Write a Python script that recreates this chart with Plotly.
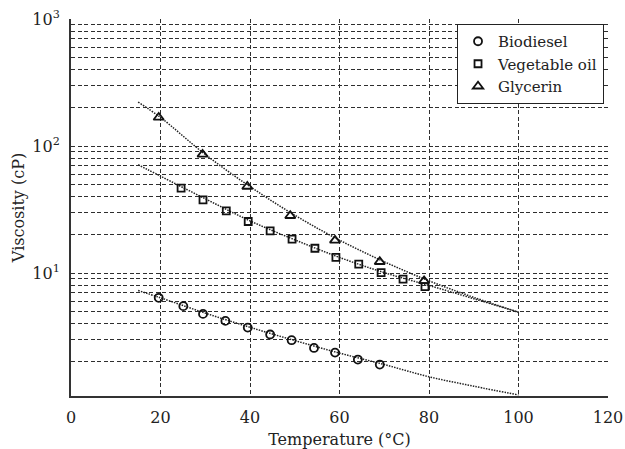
import plotly.graph_objects as go
import numpy as np

# ---- data ----
bio_T = [19.6, 25.1, 29.5, 34.5, 39.5, 44.5, 49.3, 54.3, 59.0, 64.1, 69.0]
bio_mu = [6.4, 5.5, 4.78, 4.21, 3.73, 3.29, 2.97, 2.58, 2.37, 2.09, 1.91]

veg_T = [24.6, 29.5, 34.7, 39.6, 44.5, 49.4, 54.5, 59.2, 64.3, 69.3, 74.2, 79.1]
veg_mu = [46.7, 37.8, 30.9, 25.5, 21.5, 18.5, 15.7, 13.3, 11.8, 10.1, 8.97, 7.84]

gly_T = [19.6, 29.4, 39.4, 49.0, 59.0, 69.0, 78.9]
gly_mu = [168, 86, 48.1, 28.3, 18.1, 12.3, 8.7]

# fitted curves
fit_T = [15, 20, 30, 40, 50, 60, 70, 80, 90, 100]
bio_fit = [7.3, 6.4, 4.85, 3.75, 2.95, 2.35, 1.91, 1.53, 1.29, 1.10]
veg_fit = [71.3, 58.0, 38.5, 25.8, 18.3, 13.3, 10.1, 8.0, 6.3, 4.93]
gly_fit = [222, 168, 86, 48, 28.6, 18.2, 12.3, 8.7, 6.45, 4.93]

x_ticks = [0, 20, 40, 60, 80, 100, 120]
decades = [10, 100, 1000]

# ---- figure ----
FONT = "DejaVu Serif"
fig = go.Figure()

for T, mu in [(fit_T, bio_fit), (fit_T, veg_fit), (fit_T, gly_fit)]:
    fig.add_trace(go.Scatter(x=T, y=mu, mode="lines", showlegend=False,
                             line=dict(color="#222", width=1.5, dash="1.5px,1.2px", shape="spline"),
                             hoverinfo="skip"))

mk_line = dict(color="#111", width=1.8)
fig.add_trace(go.Scatter(x=bio_T, y=bio_mu, mode="markers", name="Biodiesel",
                         marker=dict(symbol="circle-open", size=8, color="#111", line=mk_line)))
fig.add_trace(go.Scatter(x=veg_T, y=veg_mu, mode="markers", name="Vegetable oil",
                         marker=dict(symbol="square-open", size=7, color="#111", line=mk_line)))
fig.add_trace(go.Scatter(x=gly_T, y=gly_mu, mode="markers", name="Glycerin",
                         marker=dict(symbol="triangle-up-open", size=9, color="#111", line=mk_line)))

# y ticks: every 1..9 x decade for grid, labels only at decades
yvals = []
ytext = []
for d in [1, 10, 100]:
    for k in range(2, 11):
        v = k * d
        yvals.append(v)
        ytext.append("10<sup>%d</sup>" % int(round(np.log10(v))) if v in decades else "")

grid = dict(showgrid=True, gridcolor="#2e2e2e", gridwidth=1.2, griddash="4px,2.5px")

fig.update_layout(
    width=625, height=449,
    margin=dict(l=71, r=17, t=19, b=53, autoexpand=False),
    paper_bgcolor="white", plot_bgcolor="white",
    font=dict(family=FONT, size=16, color="#222"),
    xaxis=dict(range=[0, 120], tickvals=x_ticks, ticks="", zeroline=False, automargin=False,
               showline=True, linecolor="#333", linewidth=2,
               title=dict(text="Temperature (°C)", font=dict(size=16), standoff=10),
               ticklabelstandoff=6, **grid),
    yaxis=dict(type="log", range=[np.log10(1.08), 3], tickvals=yvals, ticktext=ytext,
               ticks="", zeroline=False, showline=True, linecolor="#333", linewidth=2,
               automargin=False,
               title=dict(text="Viscosity (cP)", font=dict(size=16), standoff=4),
               ticklabelstandoff=6, **grid),
    legend=dict(x=0.9926, y=0.9867, xanchor="right", yanchor="top",
                bgcolor="white", bordercolor="#222", borderwidth=1,
                font=dict(family=FONT, size=15), tracegroupgap=0),
    showlegend=True,
)

fig.write_html("out.html")
